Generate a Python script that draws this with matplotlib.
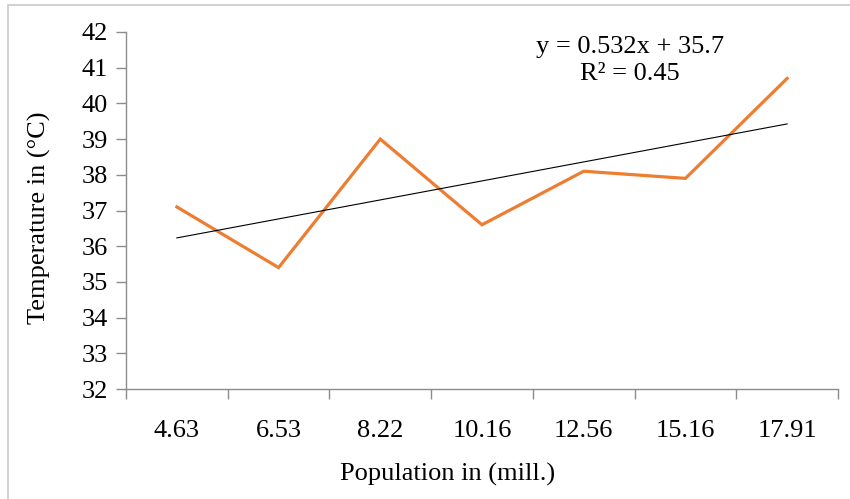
import numpy as np
import matplotlib
matplotlib.use("Agg")
import matplotlib.pyplot as plt
from matplotlib.patches import Rectangle

# data
population = ["4.63", "6.53", "8.22", "10.16", "12.56", "15.16", "17.91"]
temperature = [37.1, 35.4, 39.0, 36.6, 38.1, 37.9, 40.7]

plt.rcParams['font.family'] = ['Liberation Serif', 'DejaVu Serif']
fs = 19

fig = plt.figure(figsize=(8.5, 4.99), dpi=100)
ax = fig.add_axes([126/850, 1-389/499, (838-126)/850, (389-32)/499])

# outer light frame
fig.patches.append(Rectangle((8/850, -0.1), 1.2, 1-5/499+0.1, transform=fig.transFigure,
                             fill=False, edgecolor="#c8c8c8", linewidth=1.2))

x = np.arange(len(population))
ax.plot(x, temperature, color="#ED7D31", linewidth=2.3, solid_joinstyle="miter", zorder=3)

# linear trendline (Excel uses x = 1..n)
xn = x + 1
slope, intercept = np.polyfit(xn, temperature, 1)
r2 = np.corrcoef(xn, temperature)[0, 1] ** 2
ax.text(0.708, 0.99, "y = {:.3f}x + {:.1f}\nR² = {:.2f}".format(slope, intercept, r2),
        transform=ax.transAxes, ha="center", va="top", fontsize=fs, linespacing=1.3)
ax.plot(x, slope * xn + intercept, color="black", linewidth=0.8, zorder=4)

ax.set_xlim(-0.5, len(population) - 0.5)
ax.set_ylim(32, 42)
ax.set_yticks(np.arange(32, 43, 1))
ax.set_xticks(np.arange(-0.5, len(population), 1))
ax.set_xticklabels([])
ax.set_xticks(x, minor=True)
ax.set_xticklabels(population, minor=True)

spine_c = "#8c8c8c"
for s in ["top", "right"]:
    ax.spines[s].set_visible(False)
for s in ["left", "bottom"]:
    ax.spines[s].set_color(spine_c)
    ax.spines[s].set_linewidth(1.0)
ax.tick_params(axis="both", which="major", length=7, width=1.0, color=spine_c,
               labelsize=fs, pad=6)
ax.tick_params(axis="x", which="minor", length=0, labelsize=fs, pad=22)

ax.set_xlabel("Population in (mill.)", fontsize=fs)
ax.xaxis.set_label_coords(0.452, -0.208)
ax.set_ylabel("Temperature in (°C)", fontsize=fs)
ax.yaxis.set_label_coords(-0.105, 0.479)

fig.savefig("out.png", dpi=100)
